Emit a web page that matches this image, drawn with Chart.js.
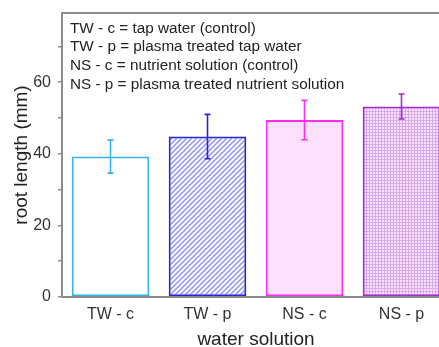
<!DOCTYPE html>
<html>
<head>
<meta charset="utf-8">
<script src="https://cdn.jsdelivr.net/npm/chart.js@4"></script>
<style>
  html, body { margin: 0; padding: 0; background: #fff; overflow: hidden; }
  #wrap { width: 452px; height: 354px; }
</style>
</head>
<body>
<div id="wrap"><canvas id="rootChart"></canvas></div>
<script>
const categories = ['TW - c', 'TW - p', 'NS - c', 'NS - p'];
const rootLength = [39.2, 44.8, 49.4, 53.2];
const rootError = [4.6, 6.2, 5.5, 3.5];
const noteLines = [
    'TW - c = tap water (control)',
    'TW - p = plasma treated tap water',
    'NS - c = nutrient solution (control)',
    'NS - p = plasma treated nutrient solution'
];

const borderColors = ['#35b4ea', '#2424d8', '#ff2cf6', '#a02ccf'];
const axisGray = '#8c8c8c';
const fontFamily = '"Liberation Sans", Arial, sans-serif';

// hatched fill for TW - p
function hatchPattern() {
    const c = document.createElement('canvas');
    c.width = 5; c.height = 5;
    const g = c.getContext('2d');
    g.fillStyle = '#ffffff';
    g.fillRect(0, 0, 5, 5);
    g.strokeStyle = '#9a9ef0';
    g.lineWidth = 1.6;
    g.beginPath();
    g.moveTo(0, 5); g.lineTo(5, 0);
    g.moveTo(-1, 1); g.lineTo(1, -1);
    g.moveTo(4, 6); g.lineTo(6, 4);
    g.stroke();
    return g.createPattern(c, 'repeat');
}

// fine grid fill for NS - p
function gridPattern() {
    const c = document.createElement('canvas');
    c.width = 3; c.height = 3;
    const g = c.getContext('2d');
    g.fillStyle = '#f7e6fa';
    g.fillRect(0, 0, 3, 3);
    g.fillStyle = '#daa8ec';
    g.fillRect(0, 0, 3, 1);
    g.fillRect(0, 0, 1, 3);
    return g.createPattern(c, 'repeat');
}

const fills = ['#ffffff', hatchPattern(), '#fde0fb', gridPattern()];

// error bars, top frame line and the abbreviation notes
const extras = {
    id: 'extras',
    afterDatasetsDraw(chart) {
        const ctx = chart.ctx;
        const y = chart.scales.y;
        const bars = chart.getDatasetMeta(0).data;
        ctx.save();
        bars.forEach((bar, i) => {
            const yTop = y.getPixelForValue(rootLength[i] + rootError[i]);
            const yBot = y.getPixelForValue(rootLength[i] - rootError[i]);
            ctx.strokeStyle = borderColors[i];
            ctx.lineWidth = 1.6;
            ctx.beginPath();
            ctx.moveTo(bar.x, yTop); ctx.lineTo(bar.x, yBot);
            ctx.moveTo(bar.x - 3, yTop); ctx.lineTo(bar.x + 3, yTop);
            ctx.moveTo(bar.x - 3, yBot); ctx.lineTo(bar.x + 3, yBot);
            ctx.stroke();
        });
        const area = chart.chartArea;
        ctx.strokeStyle = axisGray;
        ctx.lineWidth = 2;
        ctx.beginPath();
        ctx.moveTo(area.left - 1, area.top);
        ctx.lineTo(area.right + 2, area.top);
        ctx.stroke();

        ctx.fillStyle = '#222';
        ctx.font = '15.3px ' + fontFamily;
        ctx.textBaseline = 'middle';
        noteLines.forEach((t, i) => ctx.fillText(t, area.left + 8, area.top + 15.5 + i * 18.7));
        ctx.restore();
    }
};

new Chart(document.querySelector('#rootChart'), {
    type: 'bar',
    data: {
        labels: categories,
        datasets: [{
            data: rootLength,
            backgroundColor: fills,
            borderColor: borderColors,
            borderWidth: 2,
            borderSkipped: false,
            categoryPercentage: 1,
            barPercentage: 0.8
        }]
    },
    options: {
        responsive: true,
        maintainAspectRatio: false,
        animation: false,
        layout: { padding: { left: 0, top: 13, right: 2, bottom: 0 } },
        plugins: {
            legend: { display: false },
            tooltip: { enabled: false }
        },
        scales: {
            x: {
                afterFit: (s) => {
                    s.height = 57;
                    s.paddingLeft = 0;
                    s.paddingRight = 0;
                },
                grid: { display: false, drawTicks: false },
                border: { color: axisGray, width: 2 },
                ticks: {
                    color: '#333',
                    padding: 8,
                    font: { family: fontFamily, size: 16 }
                },
                title: {
                    display: true,
                    text: 'water solution',
                    color: '#222',
                    padding: { top: 0, bottom: 3 },
                    font: { family: fontFamily, size: 19 }
                }
            },
            y: {
                min: 0,
                max: 79.3,
                afterFit: (s) => {
                    s.width = 62;
                    s.paddingTop = 0;
                    s.paddingBottom = 0;
                },
                border: { color: axisGray, width: 2 },
                grid: {
                    display: true,
                    drawOnChartArea: false,
                    drawTicks: true,
                    tickLength: 4,
                    color: axisGray,
                    lineWidth: 1.5
                },
                afterBuildTicks: (s) => {
                    s.ticks = [0, 10, 20, 30, 40, 50, 60, 70].map(v => ({ value: v }));
                },
                ticks: {
                    color: '#333',
                    padding: 7,
                    font: { family: fontFamily, size: 16 },
                    callback: (v) => (v % 20 === 0 ? v : '')
                },
                title: {
                    display: true,
                    text: 'root length (mm)',
                    color: '#222',
                    padding: { top: 10, bottom: 0 },
                    font: { family: fontFamily, size: 19 }
                }
            }
        }
    },
    plugins: [extras]
});
</script>
</body>
</html>
